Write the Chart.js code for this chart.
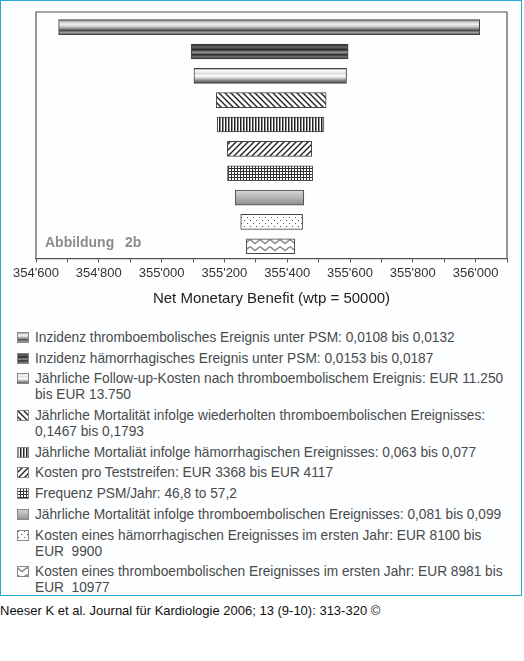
<!DOCTYPE html>
<html>
<head>
<meta charset="utf-8">
<script src="https://cdn.jsdelivr.net/npm/chart.js@4.4.0/dist/chart.umd.min.js"></script>
<style>
  body { margin: 0; width: 524px; height: 661px; background: #fff; position: relative; overflow: hidden; }
  #box { position: absolute; left: 0; top: 0; width: 520px; height: 594px; border: 1.5px solid #2aa6d6; background: #fcfeff; }
  #chartWrap { position: absolute; left: 0; top: 0; width: 524px; height: 315px; }
  #legend { position: absolute; left: 17px; top: 329px; width: 500px; font-family: "Liberation Sans", Arial, sans-serif; font-size: 14.5px; color: #4a4a4a; }
  .item { display: flex; align-items: flex-start; margin-bottom: 4.7px; line-height: 16px; }
  .item canvas { flex: none; margin-top: 3px; margin-right: 6px; }
  .item span { white-space: pre; display: inline-block; transform: scaleX(0.945); transform-origin: 0 0; }
  #footer { position: absolute; left: 0; top: 603px; font-family: "Liberation Sans", Arial, sans-serif; font-size: 13px; color: #111; }
</style>
</head>
<body>
<div id="box"></div>
<div id="chartWrap"><canvas id="tornado"></canvas></div>
<div id="legend"></div>
<div id="footer">Neeser K et al. Journal für Kardiologie 2006; 13 (9-10): 313-320 ©</div>
<script>
// Datos: parámetros del análisis de sensibilidad (de arriba abajo)
const categories = [
  "Inzidenz thromboembolisches Ereignis unter PSM: 0,0108 bis 0,0132",
  "Inzidenz hämorrhagisches Ereignis unter PSM: 0,0153 bis 0,0187",
  "Jährliche Follow-up-Kosten nach thromboembolischem Ereignis: EUR 11.250\nbis EUR 13.750",
  "Jährliche Mortalität infolge wiederholten thromboembolischen Ereignisses:\n0,1467 bis 0,1793",
  "Jährliche Mortaliät infolge hämorrhagischen Ereignisses: 0,063 bis 0,077",
  "Kosten pro Teststreifen: EUR 3368 bis EUR 4117",
  "Frequenz PSM/Jahr: 46,8 to 57,2",
  "Jährliche Mortalität infolge thromboembolischen Ereignisses: 0,081 bis 0,099",
  "Kosten eines hämorrhagischen Ereignisses im ersten Jahr: EUR 8100 bis\nEUR  9900",
  "Kosten eines thromboembolischen Ereignisses im ersten Jahr: EUR 8981 bis\nEUR  10977"
];
const lowValues = [354672, 355094, 355103, 355174, 355177, 355209, 355210, 355235, 355252, 355270];
const highValues = [356013, 355594, 355589, 355524, 355517, 355478, 355481, 355453, 355449, 355424];
const fillKinds = ['metal', 'dark', 'light', 'hatchBack', 'vstripes', 'hatchFwd', 'grid', 'grey', 'dots', 'zigzag'];
const axisMin = 354600, axisMax = 356100, tickStep = 100, labelStep = 200;
const axisTitle = 'Net Monetary Benefit (wtp = 50000)';
const figureLabel = ['Abbildung', '2b'];

const BAR_H = 15;

// Degradados tipo cilindro
const gradientStops = {
  metal: [[0, '#5a5a5a'], [0.12, '#b8b8b8'], [0.3, '#f2f2f2'], [0.45, '#cfcfcf'], [0.6, '#8a8a8a'], [0.72, '#4a4a4a'], [0.85, '#a0a0a0'], [1, '#555']],
  dark: [[0, '#111'], [0.2, '#6a6a6a'], [0.38, '#222'], [0.55, '#9a9a9a'], [0.72, '#2a2a2a'], [0.86, '#7a7a7a'], [1, '#111']],
  light: [[0, '#888'], [0.15, '#fafafa'], [0.35, '#dcdcdc'], [0.5, '#fff'], [0.65, '#d0d0d0'], [0.8, '#8c8c8c'], [1, '#444']],
  grey: [[0, '#d8d8d8'], [0.5, '#b4b4b4'], [1, '#8e8e8e']]
};

// Crear patrones con lienzos pequeños
function tile(w, h, draw) {
  const c = document.createElement('canvas');
  c.width = w; c.height = h;
  const g = c.getContext('2d');
  g.fillStyle = '#fff';
  g.fillRect(0, 0, w, h);
  draw(g);
  return c;
}
const tiles = {
  hatchBack: tile(6, 6, g => {
    g.strokeStyle = '#222'; g.lineWidth = 1.4;
    g.beginPath();
    g.moveTo(-1, -1); g.lineTo(7, 7);
    g.moveTo(-1, 5); g.lineTo(1, 7);
    g.moveTo(5, -1); g.lineTo(7, 1);
    g.stroke();
  }),
  hatchFwd: tile(6, 6, g => {
    g.strokeStyle = '#222'; g.lineWidth = 1.4;
    g.beginPath();
    g.moveTo(-1, 7); g.lineTo(7, -1);
    g.moveTo(-1, 1); g.lineTo(1, -1);
    g.moveTo(5, 7); g.lineTo(7, 5);
    g.stroke();
  }),
  vstripes: tile(3, 2, g => {
    g.fillStyle = '#222'; g.fillRect(0, 0, 1.5, 2);
  }),
  grid: tile(3, 3, g => {
    g.fillStyle = '#333'; g.fillRect(0, 0, 3, 1); g.fillRect(0, 0, 1, 3);
  }),
  dots: tile(6, 6, g => {
    g.fillStyle = '#555'; g.fillRect(1, 1, 1, 1); g.fillRect(4, 4, 1, 1);
  }),
  zigzag: tile(10, 7, g => {
    g.strokeStyle = '#8a8a8a'; g.lineWidth = 1.6;
    g.beginPath();
    g.moveTo(0, 1.5); g.lineTo(5, 5.5); g.lineTo(10, 1.5);
    g.stroke();
  })
};

function fillFor(g, kind, y0, y1) {
  if (gradientStops[kind]) {
    const grad = g.createLinearGradient(0, y0, 0, y1);
    gradientStops[kind].forEach(s => grad.addColorStop(s[0], s[1]));
    return grad;
  }
  return g.createPattern(tiles[kind], 'repeat');
}

function formatTick(v) {
  const s = String(Math.round(v));
  return s.slice(0, s.length - 3) + "'" + s.slice(s.length - 3);
}

// Marco del área del gráfico y rótulo "Abbildung 2b"
const FRAME_TOP = 12;
const framePlugin = {
  id: 'frame',
  beforeDatasetsDraw(chart) {
    const { ctx, chartArea } = chart;
    ctx.save();
    ctx.fillStyle = '#8c8c8c';
    ctx.font = 'bold 14px "Liberation Sans", Arial, sans-serif';
    ctx.textBaseline = 'middle';
    ctx.fillText(figureLabel[0], chartArea.left + 9, 243);
    ctx.fillText(figureLabel[1], chartArea.left + 89, 243);
    ctx.restore();
  },
  afterDatasetsDraw(chart) {
    const { ctx, chartArea } = chart;
    ctx.save();
    ctx.strokeStyle = '#555';
    ctx.lineWidth = 1.2;
    ctx.beginPath();
    ctx.moveTo(chartArea.left, chartArea.bottom);
    ctx.lineTo(chartArea.left, FRAME_TOP);
    ctx.lineTo(chartArea.right, FRAME_TOP);
    ctx.lineTo(chartArea.right, chartArea.bottom);
    ctx.stroke();
    ctx.restore();
  }
};

const ctxTornado = document.getElementById('tornado').getContext('2d');
const tornado = new Chart(ctxTornado, {
  type: 'bar',
  data: {
    labels: categories,
    datasets: [{
      data: lowValues.map((lo, i) => [lo, highValues[i]]),
      backgroundColor: function (c) {
        if (c.type !== 'data' || !c.chart.scales.y) return '#bbb';
        const yc = c.chart.scales.y.getPixelForValue(c.dataIndex);
        if (!isFinite(yc)) return '#bbb';
        return fillFor(c.chart.ctx, fillKinds[c.dataIndex], yc - BAR_H / 2, yc + BAR_H / 2);
      },
      borderColor: '#444',
      borderWidth: 1,
      borderSkipped: false,
      barThickness: BAR_H
    }]
  },
  options: {
    indexAxis: 'y',
    responsive: true,
    maintainAspectRatio: false,
    animation: false,
    layout: { padding: { left: 36, right: 17, top: 15, bottom: 0 } },
    plugins: { legend: { display: false }, tooltip: { enabled: false } },
    scales: {
      y: { display: false },
      x: {
        type: 'linear',
        min: axisMin,
        max: axisMax,
        grid: { drawOnChartArea: false, drawTicks: true, tickLength: 4, color: '#555' },
        border: { display: true, color: '#555', width: 1.2 },
        ticks: {
          stepSize: tickStep,
          autoSkip: false,
          maxRotation: 0,
          padding: 3,
          color: '#333',
          font: { family: '"Liberation Sans", Arial, sans-serif', size: 13 },
          callback: v => (v % labelStep === 0 && v < axisMax) ? formatTick(v) : ''
        },
        title: {
          display: true,
          text: axisTitle,
          color: '#222',
          padding: { top: 6, bottom: 7 },
          font: { family: '"Liberation Sans", Arial, sans-serif', size: 15 }
        }
      }
    }
  },
  plugins: [framePlugin]
});

// Leyenda en HTML con iconos dibujados
const legendBox = document.getElementById('legend');
categories.forEach((label, i) => {
  const item = document.createElement('div');
  item.className = 'item';
  const icon = document.createElement('canvas');
  icon.width = 12; icon.height = 11;
  const g = icon.getContext('2d');
  g.fillStyle = fillFor(g, fillKinds[i], 0, 11);
  g.fillRect(0, 0, 12, 11);
  g.strokeStyle = '#888'; g.lineWidth = 1;
  g.strokeRect(0.5, 0.5, 11, 10);
  const text = document.createElement('span');
  text.textContent = label;
  item.appendChild(icon);
  item.appendChild(text);
  legendBox.appendChild(item);
});
</script>
</body>
</html>
